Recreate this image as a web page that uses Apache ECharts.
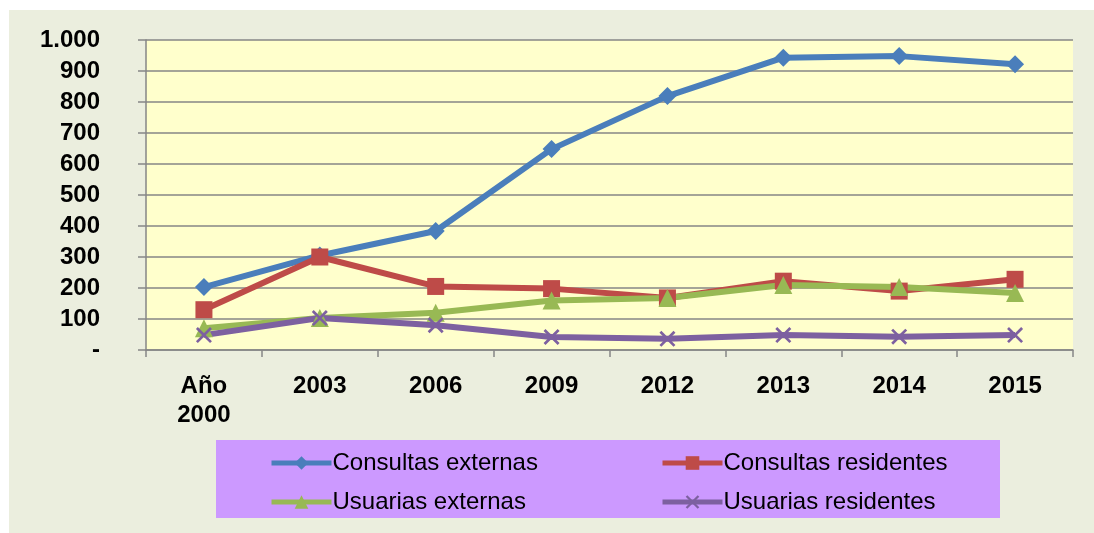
<!DOCTYPE html>
<html>
<head>
<meta charset="utf-8">
<script src="https://cdn.jsdelivr.net/npm/echarts@6/dist/echarts.min.js"></script>
<style>
html,body{margin:0;padding:0;background:#ffffff;}
#c{width:1094px;height:533px;}
</style>
</head>
<body>
<div id="c"></div>
<script>
const categories = ['Año\n2000','2003','2006','2009','2012','2013','2014','2015'];
const consultasExternas = [203, 305, 384, 648, 819, 943, 948, 922];
const consultasResidentes = [130, 300, 205, 198, 168, 222, 190, 228];
const usuariasExternas = [70, 103, 120, 160, 168, 210, 203, 184];
const usuariasResidentes = [48, 103, 80, 42, 36, 48, 43, 48];
const seriesNames = ['Consultas externas','Consultas residentes','Usuarias externas','Usuarias residentes'];

const xPath = 'path://M0,1.2 L1.2,0 L10,8.8 L8.8,10 Z M8.8,0 L10,1.2 L1.2,10 L0,8.8 Z';

const chart = echarts.init(document.getElementById('c'), null, {renderer:'canvas'});
const font = 'Liberation Sans, Arial, sans-serif';

function mk(name, data, color, symbol, size){
  return {
    name: name, type: 'line', data: data,
    symbol: symbol, symbolSize: size,
    lineStyle: {width: 6, color: color},
    itemStyle: {color: color},
    emphasis: {disabled: true},
    animation: false
  };
}

const legendCommon = {
  orient:'vertical', top:451, itemGap:15, padding:0,
  itemWidth:60, itemHeight:17, selectedMode:false,
  lineStyle:{width:5},
  textStyle:{fontFamily:font, fontSize:24, color:'#000', padding:[0,0,0,-4]}
};

chart.setOption({
  animation: false,
  backgroundColor: '#ffffff',
  graphic: [
    {type:'rect', shape:{x:9, y:10, width:1085, height:523}, style:{fill:'#EBEEDE'}, z:-10},
    {type:'rect', shape:{x:216, y:440, width:784, height:78}, style:{fill:'#CC99FF'}, z:-5}
  ],
  grid: {left:146, right:21, top:40, bottom:183, show:true, backgroundColor:'#FFFFCC', borderWidth:0},
  xAxis: {
    type:'category', data: categories, boundaryGap:true,
    axisLine:{show:true, lineStyle:{color:'#868686', width:1.5}},
    axisTick:{show:true, length:7, lineStyle:{color:'#868686', width:1.5}},
    axisLabel:{fontFamily:font, fontWeight:'bold', fontSize:24, color:'#000', margin:22, lineHeight:29, interval:0}
  },
  yAxis: {
    type:'value', min:0, max:1000, interval:100,
    axisLine:{show:true, lineStyle:{color:'#868686', width:1.5}},
    axisTick:{show:true, length:8, lineStyle:{color:'#868686', width:1.5}},
    splitLine:{show:true, lineStyle:{color:'#868686', width:1.5}},
    axisLabel:{fontFamily:font, fontWeight:'bold', fontSize:24, color:'#000', margin:46,
      formatter: function(v){ if(v===0) return '-'; if(v>=1000) return '1.000'; return String(v); }}
  },
  legend: [
    Object.assign({data:[seriesNames[0], seriesNames[2]], left:269}, legendCommon),
    Object.assign({data:[seriesNames[1], seriesNames[3]], left:660}, legendCommon)
  ],
  series: [
    mk(seriesNames[0], consultasExternas, '#4A7EBB', 'diamond', 18),
    mk(seriesNames[1], consultasResidentes, '#BE4B48', 'rect', 17),
    mk(seriesNames[2], usuariasExternas, '#98B954', 'triangle', 18),
    mk(seriesNames[3], usuariasResidentes, '#7D60A0', xPath, 16)
  ]
});
</script>
</body>
</html>
